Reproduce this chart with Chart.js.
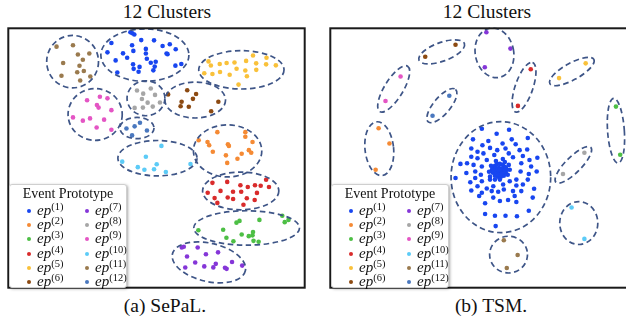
<!DOCTYPE html>
<html>
<head>
<meta charset="utf-8">
<script src="https://cdn.jsdelivr.net/npm/chart.js@4.4.1/dist/chart.umd.min.js"></script>
<style>
  html, body { margin:0; padding:0; background:#fff; width:626px; height:320px; overflow:hidden; }
  body { position:relative; font-family:"Liberation Serif", "Times New Roman", serif; color:#111; }
  .ttl { position:absolute; width:240px; text-align:center; font-size:19.5px; line-height:20px; }
  .cv { position:absolute; }
  .legend { position:absolute; width:116px; height:102px; background:#fff; border:1px solid #cfcfcf;
            border-radius:3px; box-shadow:1px 1px 3px rgba(0,0,0,0.35); }
  .legend .lt { position:absolute; left:0; width:100%; top:1px; text-align:center; font-size:14px; line-height:16px; }
  .legend .it { position:absolute; font-size:15px; line-height:14px; font-style:italic; white-space:nowrap; }
  .legend .it sup { font-style:normal; font-size:10.5px; vertical-align:5px; line-height:0; }
  .legend .dot { display:inline-block; width:4px; height:4px; border-radius:50%; margin-right:6px; vertical-align:2px; }
</style>
</head>
<body>
<div class="ttl" style="left:47px; top:2px;">12 Clusters</div>
<div class="ttl" style="left:367px; top:2px;">12 Clusters</div>
<div class="ttl" style="left:45px; top:296px;">(a) SePaL.</div>
<div class="ttl" style="left:371px; top:296px;">(b) TSM.</div>
<canvas id="cA" class="cv" width="303" height="266" style="left:5px; top:25px;"></canvas>
<canvas id="cB" class="cv" width="330" height="266" style="left:327px; top:25px;"></canvas>
<div id="legA" class="legend" style="left:9px; top:184px;"></div>
<div id="legB" class="legend" style="left:331px; top:184px;"></div>
<script>
// ---- categories / labels ----
const clusterTitle = "12 Clusters";
const legendTitle = "Event Prototype";
const protoIds = [1,2,3,4,5,6,7,8,9,10,11,12];
const protoColors = ["#1846f0","#f58a34","#4dbf45","#d92b2b","#f9c13a","#8c4a12",
                     "#8536d8","#a6a6a6","#e455c4","#5ccbf7","#9a7a4e","#4a78bf"];

// ---- (a) SePaL. embedding points, one array per event prototype ----
const sepal1 = [[130,30],[134,32.3],[132,31],[110.7,41],[131.7,43.3],[141,38],[154,38.3],[106.7,50.5],[122.5,51.5],[133,49],[145.7,47],[145.7,51.7],[162.7,44],[170,42.3],[166.7,51.7],[167.7,52.3],[176,47.3],[115,58.7],[126.7,56],[146.7,57],[132.7,62.7],[139.3,65.3],[150.7,61],[155.7,60],[154.7,65],[133.3,67.3],[138.3,70.3],[116.7,71],[153.3,68.8],[175.7,64],[181.7,62.3]];
const sepal2 = [[218.3,131.7],[246.7,131.7],[246.7,136.3],[199.3,140],[208.3,141.7],[210,145],[229,144],[230,145.7],[254,141.7],[213.7,151.7],[227,155.3],[243,153.7],[250.3,150],[252.7,152.7],[238.7,158.7],[228.3,163]];
const sepal3 = [[199,231.5],[224.2,231],[237.7,223.8],[240.8,222],[261,221],[284.2,216.7],[290.5,221],[286.7,223.3],[227.5,239.2],[243,235.8],[250.2,237.5],[254,236.7],[254.5,233.3],[234.6,242.7],[255,242.3],[260.2,243.3]];
const sepal4 = [[213.3,183.3],[228.3,182.3],[241.7,185.7],[249.2,187.5],[256.5,185.7],[262.3,186.3],[267.8,180.2],[270.7,187.5],[208.5,193.3],[221.5,191.5],[234.2,192.3],[242.5,192.3],[258.5,193.5],[215.5,198.8],[228.8,198.2],[234.3,199.7],[248.2,199],[256.2,200.7],[218.3,203.7],[244.8,205.5]];
const sepal5 = [[209.3,59.7],[211.7,63.8],[220.7,62.3],[227.7,61.3],[235.7,60.8],[247.5,59.2],[254.5,53.7],[268.2,56],[257.7,61.7],[267.8,62.7],[277.7,63.7],[205,71.7],[213.3,72.5],[221,70.5],[230.8,73.3],[237.8,67.2],[246.7,69],[248.3,74.8],[257.8,68.3],[239.8,83.3]];
const sepal6 = [[168.3,93.3],[187.7,89],[196.7,92.8],[193.5,97.8],[182,100.8],[181,105.3],[189.3,105.8],[219.3,100.7],[212,110.5]];
const sepal7 = [[182.2,249],[184.2,248.3],[198.3,249],[187.5,258.3],[206.7,256],[219,254],[195.8,264.3],[205,268.3],[216.7,265.7],[214.2,269.3],[233.2,263.8],[243.5,267.5],[185.7,269.5],[226,269.7],[227.7,270.8]];
const sepal8 = [[136.7,89.3],[143,92.5],[150.7,87.3],[155,93.8],[141.7,98],[147.5,101.7],[160,101.5],[134.3,107],[142.7,106.7],[152.7,105.7]];
const sepal9 = [[86,99.3],[99,95.7],[106.7,97.3],[96,104],[97.7,106.7],[110.7,109.3],[71.7,116.7],[81.7,120],[89,117.7],[103.3,119],[95.7,127],[110.7,129.3]];
const sepal10 = [[161.5,145.7],[145.7,156.7],[121.7,161.7],[137.5,167.3],[144.2,170],[154,169.5],[156.7,164.3],[166,172.2],[191,164.2]];
const sepal11 = [[55,44.7],[71.7,43.3],[76.7,52.7],[88.3,51.7],[81.7,58],[61.7,61.3],[78.3,64.2],[82.7,69.5],[76,70.7],[60,74.3],[89.3,75],[79,79.2]];
const sepal12 = [[126,128],[134.3,125.8],[139.7,122.2],[146.8,130],[131.7,135]];

// ---- (b) TSM. embedding points ----
const tsm1 = [[481.7,128.3],[509.3,129.3],[496.7,133.3],[472.7,139],[488.3,140.7],[502.7,143.3],[512,139],[482.3,145],[516,144],[528.3,137.7],[471,148.3],[477.3,151.7],[490,147.7],[497.3,150],[505.7,148.3],[520,150],[527.7,149.3],[471,156.7],[483.3,153.3],[494.3,155],[509,153.3],[513.3,157.3],[523.3,156],[530,160],[538,157.7],[477.3,158.3],[486.7,160],[460,164],[466.7,163.3],[473.3,165],[481.7,166.7],[521.7,163.3],[531.7,166.7],[466,173.3],[475,171.7],[480.7,175],[521,171.7],[529.3,174.3],[537.3,171.7],[455,178.3],[475,178.3],[481.7,181.7],[490,180],[510,181.7],[516.7,180],[528.3,180],[470,182.7],[477.3,186.7],[486.7,189],[493.3,186.7],[503.3,185],[516.7,186],[523.3,185],[471,191],[481.7,193.3],[491.7,191.7],[498.3,192.3],[504,190],[513.3,191.7],[521.7,191.7],[479,196.7],[493.3,198.3],[500,201.7],[508.3,200.7],[515,196.7],[533.3,198.3],[485,204],[516.7,202.7],[529.3,211.7],[485,215],[495,216.7],[505.7,216.7],[517.3,217.3],[495.7,227.3],[534.7,189.3],
  [493,168],[495,166],[497,164],[500,164],[503,165],[505,167],[507,170],[506,173],[504,176],[501,177],[498,177],[495,176],[493,173],[492,170],[496,169],[499,168],[502,169],[504,171],[501,172],[498,172],[496,173],[499,175],[502,174],[497,170],[500,170],[494,171],[506,168],[491,166],[505,162],[496,161],[489,172],[508,175],[500,180],[490,177],[510,170],[503,159],[495,180],[509,165]];
const tsm2 = [[377,127.7],[388,143.3],[374,170]];
const tsm3 = [[617.7,105.7],[622,154.7]];
const tsm4 = [[531.3,67.7],[518.3,105]];
const tsm5 = [[587,61.7],[560,76.7]];
const tsm6 = [[455,42.7],[424.3,55]];
const tsm7 = [[486.3,30],[510.7,46.7],[484.7,65.7]];
const tsm8 = [[585.7,152.7],[564,174.3]];
const tsm9 = [[399.3,75],[384,100]];
const tsm10 = [[572.7,208.3],[585.7,240.3]];
const tsm11 = [[504,241.7],[518,256.7],[507,270]];
const tsm12 = [[448.7,94.7],[431.7,115]];

// ---- cluster boundaries (dashed ellipses): [prototype, cx, cy, radiusA, radiusB, rotationDeg] ----
const sepalHulls = [[1,144.7,53.3,44.7,26.7,0],[2,228.7,150.8,34.7,26.5,0],[3,248,229.2,53.7,17.5,0],[4,242,191.5,38.7,19.2,0],
  [5,242.7,68.3,43.3,19.5,0],[6,195.8,99,30.8,18.3,0],[7,209.7,264.2,38,19.5,13],[8,145.8,97.2,19.2,17.8,0],
  [9,94.2,113.7,27.5,26.3,0],[10,157.5,158.2,40.2,18,0],[11,71.3,60,26.3,26.7,0],[12,136.7,127.5,17.3,10.8,0]];
const tsmHulls = [[1,501,177.5,50.5,56.5,0],[2,377.7,148.5,14.5,27.5,-6],[3,617.7,130.3,8.5,33,-4],[4,524.5,86,26.5,9,-71],
  [5,573,70,25.5,8.5,-29],[6,441,50,24.5,9.5,-20],[7,494.5,51,19.5,25.5,-11],[8,574.5,165,25,8,-45],
  [9,392.3,87.7,27,9.5,-58.5],[10,580,224.2,19.3,21.8,0],[11,508.8,256.3,19.2,18.7,0],[12,441.2,104.7,21.5,8.5,-50]];

const sepalSeries = [sepal1,sepal2,sepal3,sepal4,sepal5,sepal6,sepal7,sepal8,sepal9,sepal10,sepal11,sepal12];
const tsmSeries = [tsm1,tsm2,tsm3,tsm4,tsm5,tsm6,tsm7,tsm8,tsm9,tsm10,tsm11,tsm12];

const hullPlugin = {
  id: 'hulls',
  afterDatasetsDraw(chart, args, opts) {
    const {ctx, chartArea, scales:{x, y}} = chart;
    ctx.save();
    ctx.beginPath(); ctx.rect(chartArea.left, chartArea.top, chartArea.right-chartArea.left, chartArea.bottom-chartArea.top); ctx.clip();
    ctx.strokeStyle = '#3e5587'; ctx.lineWidth = 1.7; ctx.setLineDash([5.5, 3.5]);
    for (const h of opts.hulls) {
      const cx = x.getPixelForValue(h[1]), cy = y.getPixelForValue(h[2]);
      const rx = Math.abs(x.getPixelForValue(h[1]+h[3]) - cx);
      const ry = Math.abs(y.getPixelForValue(h[2]+h[4]) - cy);
      ctx.beginPath(); ctx.ellipse(cx, cy, rx, ry, h[5]*Math.PI/180, 0, Math.PI*2); ctx.stroke();
    }
    ctx.restore();
  }
};
const framePlugin = {
  id: 'frame',
  afterDraw(chart) {
    const {ctx, chartArea:a} = chart;
    ctx.save(); ctx.strokeStyle = '#1a1a1a'; ctx.lineWidth = 2; ctx.setLineDash([]);
    ctx.strokeRect(a.left+1, a.top+1, a.right-a.left-2, a.bottom-a.top-2); ctx.restore();
  }
};

function makeChart(id, series, hulls, xr, yr) {
  new Chart(document.getElementById(id), {
    type: 'scatter',
    data: { datasets: series.map((pts, i) => ({
      label: 'ep(' + protoIds[i] + ')',
      data: pts.map(p => ({x:p[0], y:p[1]})),
      backgroundColor: protoColors[i], borderWidth: 0, pointRadius: 2.3, pointHoverRadius: 2.3
    })) },
    options: {
      responsive: false, animation: false, devicePixelRatio: 1,
      layout: { padding: 0 },
      plugins: { legend: { display: false }, tooltip: { enabled: false }, hulls: { hulls } },
      scales: {
        x: { type: 'linear', display: false, min: xr[0], max: xr[1] },
        y: { type: 'linear', display: false, min: yr[0], max: yr[1], reverse: true }
      }
    },
    plugins: [hullPlugin, framePlugin]
  });
}
makeChart('cA', sepalSeries, sepalHulls, [5, 308], [25, 291]);
makeChart('cB', tsmSeries, tsmHulls, [327, 657], [25, 291]);

function makeLegend(id) {
  const el = document.getElementById(id);
  const t = document.createElement('div'); t.className = 'lt'; t.textContent = legendTitle; el.appendChild(t);
  protoIds.forEach((k, i) => {
    const col = i < 6 ? 0 : 1, row = i % 6;
    const d = document.createElement('div'); d.className = 'it';
    d.style.left = (col ? 75 : 17) + 'px';
    d.style.top = (18 + row * 14.2) + 'px';
    d.innerHTML = '<span class="dot" style="background:' + protoColors[i] + '"></span>ep<sup>(' + k + ')</sup>';
    el.appendChild(d);
  });
}
makeLegend('legA'); makeLegend('legB');
</script>
</body>
</html>
